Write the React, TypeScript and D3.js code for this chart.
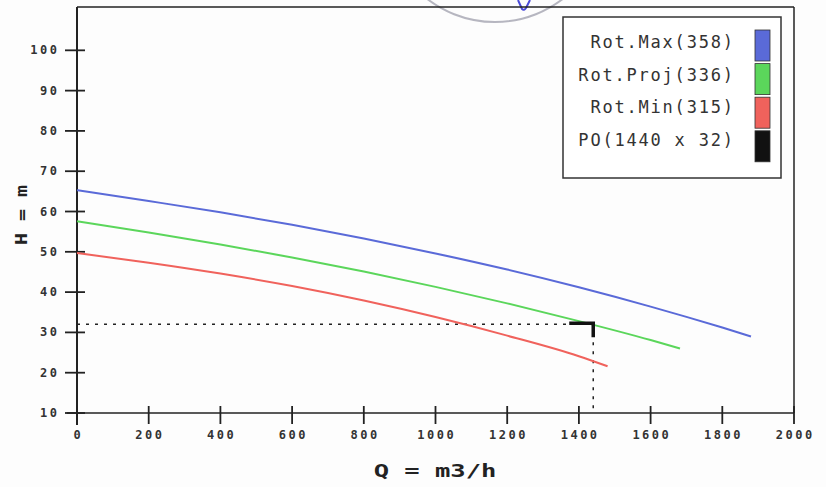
import React from "react";
import * as d3 from "d3";

// Pump curves: flow Q (m3/h) vs head H (m) at three rotation speeds
const maxQ = [0, 200, 400, 600, 800, 1000, 1200, 1400, 1600, 1800, 1880];
const maxH = [65.3, 62.6, 59.8, 56.7, 53.3, 49.6, 45.6, 41.2, 36.4, 31.2, 29.0];

const projQ = [0, 200, 400, 600, 800, 1000, 1200, 1400, 1600, 1682];
const projH = [57.6, 54.8, 51.8, 48.6, 45.1, 41.3, 37.2, 32.8, 28.1, 26.0];

const minQ = [0, 200, 400, 600, 800, 1000, 1200, 1400, 1480];
const minH = [49.7, 47.3, 44.6, 41.5, 37.9, 33.8, 29.2, 24.1, 21.6];

const operatingPoint = [1440, 32];

const seriesNames = ["Rot.Max(358)", "Rot.Proj(336)", "Rot.Min(315)", "PO(1440 x 32)"];
const seriesColors = ["#5a6ad8", "#5bd65b", "#f0625c", "#111111"];

const xTicks = [0, 200, 400, 600, 800, 1000, 1200, 1400, 1600, 1800, 2000];
const yTicks = [10, 20, 30, 40, 50, 60, 70, 80, 90, 100];

const W = 826;
const H = 487;

export default function App() {
  const x = d3.scaleLinear().domain([0, 2000]).range([77, 794]);
  const y = d3.scaleLinear().domain([10, 110.75]).range([413, 7]);

  const line = d3
    .line<[number, number]>()
    .x((d) => x(d[0]))
    .y((d) => y(d[1]))
    .curve(d3.curveMonotoneX);

  const curves = [
    { q: maxQ, h: maxH, color: seriesColors[0] },
    { q: projQ, h: projH, color: seriesColors[1] },
    { q: minQ, h: minH, color: seriesColors[2] },
  ];

  const mono = "'DejaVu Sans Mono', 'Liberation Mono', monospace";
  const axisColor = "#222";
  const tickLs = 2.5;

  const px = x(operatingPoint[0]);
  const py = y(operatingPoint[1]);

  return (
    <svg
      width={W}
      height={H}
      style={{ position: "absolute", left: 0, top: 0, background: "#fdfdfd" }}
      fontFamily={mono}
    >
      <rect x={0} y={0} width={W} height={H} fill="#fdfdfd" />

      {/* stamp and ink mark at the top edge */}
      <circle cx={495} cy={-89} r={111} fill="none" stroke="#a4a4b0" strokeWidth={2} opacity={0.8} />
      <path d="M518,0 L522,9 Q524,11 526,8 L530,0" fill="none" stroke="#4a4ad8" strokeWidth={2} />

      {/* plot frame */}
      <line x1={x(0)} y1={7} x2={x(2000)} y2={7} stroke={axisColor} strokeWidth={1.5} />
      <line x1={x(2000)} y1={7} x2={x(2000)} y2={y(10)} stroke={axisColor} strokeWidth={1.5} />

      {/* axes */}
      <line x1={x(0)} y1={7} x2={x(0)} y2={425} stroke={axisColor} strokeWidth={2} />
      <line x1={67} y1={y(10)} x2={x(2000)} y2={y(10)} stroke={axisColor} strokeWidth={1.5} />

      {yTicks.map((t) => (
        <g key={"y" + t}>
          <line x1={x(0) - 12} x2={x(0) + 8} y1={y(t)} y2={y(t)} stroke={axisColor} strokeWidth={1.8} />
          <text
            x={57 + tickLs}
            y={y(t) + 4}
            textAnchor="end"
            fontSize={12}
            fontWeight="bold"
            letterSpacing={tickLs}
            fill="#333"
          >
            {t}
          </text>
        </g>
      ))}

      {xTicks.map((t) => (
        <g key={"x" + t}>
          <line x1={x(t)} x2={x(t)} y1={y(10) - 7} y2={y(10) + 11} stroke={axisColor} strokeWidth={1.8} />
          <text
            x={x(t) + tickLs / 2}
            y={439}
            textAnchor="middle"
            fontSize={12}
            fontWeight="bold"
            letterSpacing={tickLs}
            fill="#333"
          >
            {t}
          </text>
        </g>
      ))}

      {/* axis titles */}
      <text
        transform="translate(435,477) scale(1.5,1)"
        textAnchor="middle"
        fontSize={17}
        fontWeight="bold"
        fill="#222"
      >
        Q = m3/h
      </text>
      <text
        transform="translate(27,215) rotate(-90) scale(1.25,1)"
        textAnchor="middle"
        fontSize={16}
        fontWeight="bold"
        fill="#222"
      >
        H = m
      </text>

      {/* operating point guides */}
      <line
        x1={x(0)}
        x2={px}
        y1={py}
        y2={py}
        stroke="#222"
        strokeWidth={1.5}
        strokeDasharray="3,6"
      />
      <line
        x1={px}
        x2={px}
        y1={py}
        y2={y(10)}
        stroke="#222"
        strokeWidth={1.5}
        strokeDasharray="3,6"
      />

      {/* pump curves */}
      {curves.map((c, i) => (
        <path
          key={i}
          d={line(c.q.map((q, j) => [q, c.h[j]] as [number, number])) || ""}
          fill="none"
          stroke={c.color}
          strokeWidth={2}
        />
      ))}

      {/* operating point marker */}
      <path
        d={`M${px - 24},${py - 1} L${px},${py - 1} L${px},${py + 13}`}
        fill="none"
        stroke="#111"
        strokeWidth={3.5}
      />

      {/* legend */}
      <rect x={563} y={17} width={218} height={161} fill="#fff" stroke="#333" strokeWidth={1.5} />
      {seriesNames.map((name, i) => (
        <g key={name}>
          <text
            x={733 + 1.8}
            y={48 + i * 32.7}
            textAnchor="end"
            fontSize={17}
            letterSpacing={1.8}
            fill="#333"
          >
            {name}
          </text>
          <rect
            x={755}
            y={30 + i * 33.6}
            width={15}
            height={31}
            fill={seriesColors[i]}
            stroke="#333"
            strokeWidth={0.8}
          />
        </g>
      ))}
    </svg>
  );
}
